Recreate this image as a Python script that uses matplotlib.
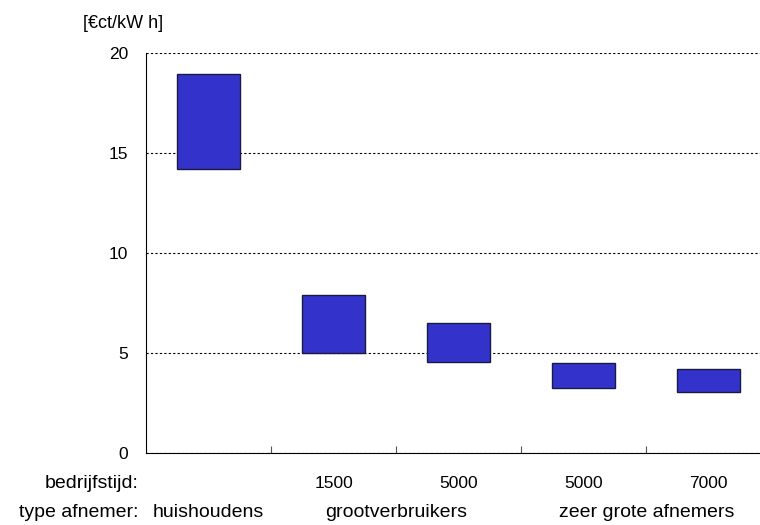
import matplotlib.pyplot as plt
import numpy as np

plt.rcParams['font.family'] = ['Liberation Sans', 'DejaVu Sans']

bedrijfstijd = ['', '1500', '5000', '5000', '7000']
laag = np.array([14.2, 5.0, 4.55, 3.25, 3.05])
hoog = np.array([18.95, 7.9, 6.5, 4.5, 4.2])
afnemers = ['huishoudens', 'grootverbruikers', 'zeer grote afnemers']
afnemer_pos = [0, 1.5, 3.5]

x = np.arange(len(laag))

fig = plt.figure(figsize=(7.6, 5.25), dpi=100)
ax = fig.add_axes([146 / 760, 72 / 525, 614 / 760, 400 / 525])

ax.bar(x, hoog - laag, bottom=laag, width=0.5, color='#3333cc',
       edgecolor='#1a1a40', linewidth=1, zorder=3)

ax.set_xlim(-0.5, 4.41)
ax.set_ylim(0, 20)
ax.set_yticks([0, 5, 10, 15, 20])
ax.grid(axis='y', linestyle=(0, (2, 2)), color='black', linewidth=0.8)
ax.spines[['top', 'right']].set_visible(False)
ax.tick_params(axis='y', length=0, labelsize=12.5, pad=13)

ax.set_xticks(x[:-1] + 0.5)
ax.set_xticklabels([])
ax.tick_params(axis='x', direction='in', length=5, color='#555555')

# rijen onder de as
for xi, b in zip(x, bedrijfstijd):
    ax.text(xi, -1.75, b, ha='center', va='baseline', fontsize=12.5)
for xi, a in zip(afnemer_pos, afnemers):
    ax.text(xi, -3.22, a, ha='center', va='baseline', fontsize=14)

ax.text(-0.56, -1.75, 'bedrijfstijd:', ha='right', va='baseline', fontsize=14)
ax.text(-0.56, -3.22, 'type afnemer:', ha='right', va='baseline', fontsize=14)
ax.text(-1.0, 21.25, '[€ct/kW h]', ha='left', va='baseline', fontsize=13)

fig.savefig('out.png', dpi=100)
